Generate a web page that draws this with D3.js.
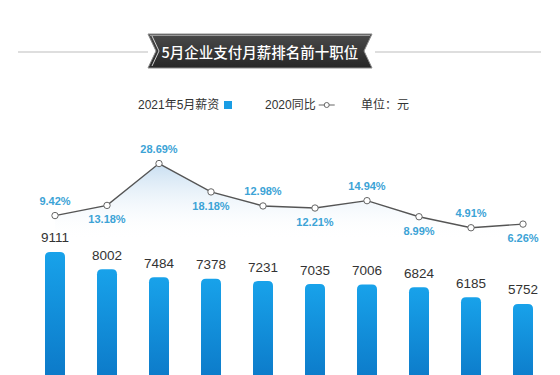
<!DOCTYPE html>
<html><head><meta charset="utf-8">
<script src="https://cdn.jsdelivr.net/npm/d3@7/dist/d3.min.js"></script>
<style>
html,body{margin:0;padding:0;background:#fff;}
svg{display:block;font-family:"Liberation Sans","Noto Sans CJK SC",Arial,sans-serif;}
</style></head>
<body>
<svg id="c" width="560" height="375"></svg>
<script>
const title = "5月企业支付月薪排名前十职位";
const ranks = [1,2,3,4,5,6,7,8,9,10];
const salary2021 = [9111,8002,7484,7378,7231,7035,7006,6824,6185,5752];
const yoy2020 = [9.42,13.18,28.69,18.18,12.98,12.21,14.94,8.99,4.91,6.26];
const legendLabels = ["2021年5月薪资","2020同比","单位：元"];

const svg = d3.select("#c");
const defs = svg.append("defs");

const barGrad = defs.append("linearGradient").attr("id","barG").attr("x1",0).attr("y1",0).attr("x2",0).attr("y2",1);
barGrad.append("stop").attr("offset","0%").attr("stop-color","#18a2ea");
barGrad.append("stop").attr("offset","100%").attr("stop-color","#0a72c2");

const areaGrad = defs.append("linearGradient").attr("id","areaG").attr("gradientUnits","userSpaceOnUse")
  .attr("x1",0).attr("y1",160).attr("x2",0).attr("y2",240);
areaGrad.append("stop").attr("offset","0%").attr("stop-color","#bcd7ee").attr("stop-opacity",0.9);
areaGrad.append("stop").attr("offset","100%").attr("stop-color","#ffffff").attr("stop-opacity",0);

const ribGrad = defs.append("linearGradient").attr("id","ribG").attr("x1",0).attr("y1",0).attr("x2",0).attr("y2",1);
ribGrad.append("stop").attr("offset","0%").attr("stop-color","#4a4a4a");
ribGrad.append("stop").attr("offset","100%").attr("stop-color","#262626");

// Title
const rL = 148, rR = 372, rT = 34, rB = 68, rM = 51, cx = (rL+rR)/2;
svg.append("line").attr("x1",18).attr("x2",rL).attr("y1",52).attr("y2",52).attr("stroke","#dedede").attr("stroke-width",2);
svg.append("line").attr("x1",rR+3).attr("x2",541).attr("y1",52).attr("y2",52).attr("stroke","#dedede").attr("stroke-width",2);
svg.append("path").attr("d",`M${rL},${rT} L${rR},${rT} L${rR-8},${rM} L${rR},${rB} L${rL},${rB} L${rL+8},${rM} Z`)
  .attr("fill","url(#ribG)").attr("stroke","#8a8a8a").attr("stroke-width",1);
svg.append("path").attr("d",`M${rL+4},${rT+2} L${rL+11},${rM} L${rL+4},${rB-2}`).attr("fill","none").attr("stroke","#cfcfcf").attr("stroke-width",1);
svg.append("line").attr("x1",rL+2).attr("x2",rR-2).attr("y1",rT+1.5).attr("y2",rT+1.5).attr("stroke","#9a9a9a").attr("stroke-width",1);
svg.append("text").attr("x",cx).attr("y",58).attr("text-anchor","middle")
  .attr("font-family","'Noto Sans CJK SC',sans-serif").attr("font-size",14.5).attr("font-weight",500)
  .attr("fill","#fff").text(title);

// Legend
const lg = svg.append("g").attr("font-size",12).attr("fill","#333");
lg.append("text").attr("x",138).attr("y",109).text(legendLabels[0]);
lg.append("rect").attr("x",224).attr("y",101).attr("width",8).attr("height",8).attr("fill","#1a9de4");
const t2 = lg.append("text").attr("x",265).attr("y",109).text(legendLabels[1]);
const sx = 265 + t2.node().getComputedTextLength() + 3;
lg.append("line").attr("x1",sx).attr("x2",sx+16).attr("y1",105).attr("y2",105).attr("stroke","#666").attr("stroke-width",1);
lg.append("circle").attr("cx",sx+8).attr("cy",105).attr("r",2.5).attr("fill","#fff").attr("stroke","#666");
lg.append("text").attr("x",361).attr("y",109).text(legendLabels[2]);

// Scales
const x = d3.scalePoint().domain(ranks).range([55,523]);
const yBar = d3.scaleLinear().domain([0,10000]).range([393,238.2]);
const yLine = d3.scaleLinear().domain([0,30]).range([241,160]);

// Area under line
const area = d3.area().x((d,i)=>x(ranks[i])).y0(245).y1(d=>yLine(d));
svg.append("path").datum(yoy2020).attr("d",area).attr("fill","url(#areaG)");

// Bars
const bw = 20;
svg.append("g").selectAll("path").data(salary2021).join("path")
  .attr("d",(d,i)=>{
    const x0 = x(ranks[i]) - bw/2, y0 = yBar(d), r = 5, h = 400 - y0;
    return `M${x0},${y0+r} Q${x0},${y0} ${x0+r},${y0} L${x0+bw-r},${y0} Q${x0+bw},${y0} ${x0+bw},${y0+r} L${x0+bw},${y0+h} L${x0},${y0+h} Z`;
  })
  .attr("fill","url(#barG)");

svg.append("g").selectAll("text").data(salary2021).join("text")
  .attr("x",(d,i)=>x(ranks[i])).attr("y",d=>yBar(d)-9.5)
  .attr("text-anchor","middle").attr("font-size",13.5).attr("fill","#333")
  .text(d=>d);

// Line
const line = d3.line().x((d,i)=>x(ranks[i])).y(d=>yLine(d));
svg.append("path").datum(yoy2020).attr("d",line).attr("fill","none").attr("stroke","#555").attr("stroke-width",1.4);
svg.append("g").selectAll("circle").data(yoy2020).join("circle")
  .attr("cx",(d,i)=>x(ranks[i])).attr("cy",d=>yLine(d)).attr("r",3.2)
  .attr("fill","#fff").attr("stroke","#666").attr("stroke-width",1);
svg.append("g").selectAll("text").data(yoy2020).join("text")
  .attr("x",(d,i)=>x(ranks[i]))
  .attr("y",(d,i)=> i%2===0 ? yLine(d)-11 : yLine(d)+18)
  .attr("text-anchor","middle").attr("font-size",11).attr("font-weight","bold").attr("fill","#3ca3d6")
  .text(d=>d.toFixed(2)+"%");
</script>
</body></html>
